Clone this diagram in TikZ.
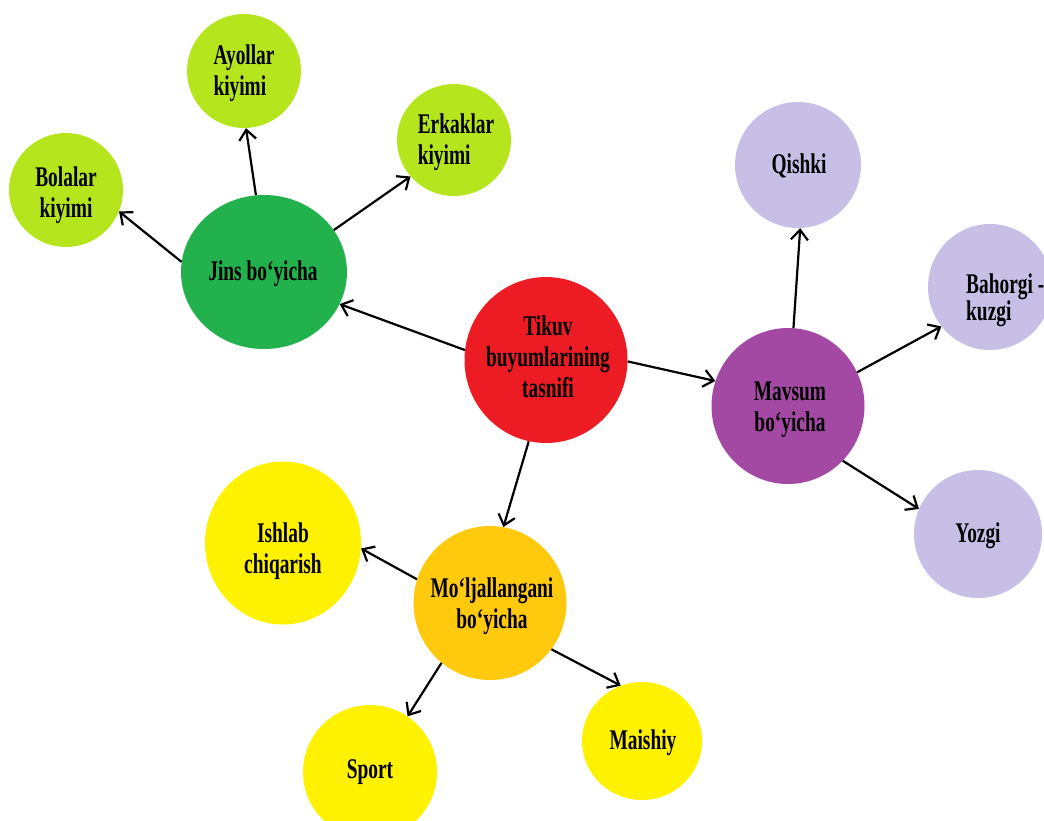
\documentclass[tikz,border=0pt]{standalone}
\usepackage{fontspec}
\setmainfont{Liberation Serif}[FakeStretch=0.68]
\usetikzlibrary{arrows.meta,shapes.geometric}
\definecolor{cred}{HTML}{ED1C24}
\definecolor{cdgreen}{HTML}{22B14C}
\definecolor{clgreen}{HTML}{B5E61D}
\definecolor{cpurple}{HTML}{A349A4}
\definecolor{clav}{HTML}{C8BFE7}
\definecolor{corange}{HTML}{FFC90E}
\definecolor{cyellow}{HTML}{FFF200}
\begin{document}
\begin{tikzpicture}[x=1pt,y=1pt,
  bub/.style={ellipse,inner sep=0pt,draw=none},
  txt/.style={font=\bfseries\fontsize{28.5}{31}\selectfont,align=center,text=black,inner sep=0pt},
  arr/.style={line width=2.2pt,-{Straight Barb[length=10pt,width=17pt]}}]
\useasboundingbox (0,0) rectangle (1044,-820);
% bubbles
\node[bub,fill=cred,minimum width=163pt,minimum height=166pt] (C) at (546,-360) {};
\node[bub,fill=cdgreen,minimum width=166pt,minimum height=154pt] (J) at (264,-272) {};
\node[bub,fill=clgreen,minimum width=114pt,minimum height=114pt] (A) at (244,-71) {};
\node[bub,fill=clgreen,minimum width=114pt,minimum height=112pt] (E) at (454,-140) {};
\node[bub,fill=clgreen,minimum width=114pt,minimum height=114pt] (B) at (66,-190) {};
\node[bub,fill=cpurple,minimum width=153pt,minimum height=156pt] (M) at (788,-406) {};
\node[bub,fill=clav,minimum width=126pt,minimum height=126pt] (Q) at (798,-165) {};
\node[bub,fill=clav,minimum width=124pt,minimum height=126pt] (H) at (990,-287) {};
\node[bub,fill=clav,minimum width=128pt,minimum height=128pt] (Y) at (978,-534) {};
\node[bub,fill=corange,minimum width=153pt,minimum height=154pt] (O) at (490,-603) {};
\node[bub,fill=cyellow,minimum width=156pt,minimum height=163pt] (I) at (283,-543) {};
\node[bub,fill=cyellow,minimum width=134pt,minimum height=134pt] (S) at (370,-772) {};
\node[bub,fill=cyellow,minimum width=120pt,minimum height=118pt] (Mi) at (642,-741) {};
% texts
\node[txt] (Ct) at (548,-357) {Tikuv\\buyumlarining\\tasnifi};
\node[txt] (Jt) at (263,-274) {Jins bo‘yicha};
\node[txt,align=left] (At) at (244,-73) {Ayollar\\kiyimi};
\node[txt,align=left] (Et) at (456,-142) {Erkaklar\\kiyimi};
\node[txt] (Bt) at (66,-195) {Bolalar\\kiyimi};
\node[txt] (Mt) at (790,-410) {Mavsum\\bo‘yicha};
\node[txt] (Qt) at (799,-166) {Qishki};
\node[txt,align=left,anchor=west,font=\bfseries\fontsize{28.5}{27}\selectfont] (Ht) at (966,-300) {Bahorgi -\\kuzgi};
\node[txt] (Yt) at (978,-536) {Yozgi};
\node[txt] (Ot) at (492,-606) {Mo‘ljallangani\\bo‘yicha};
\node[txt] (It) at (283,-551) {Ishlab\\chiqarish};
\node[txt] (St) at (370,-772) {Sport};
\node[txt] (Mit) at (643,-743) {Maishiy};
% arrows
\draw[arr] (C.173) -- (J.-23.5);
\draw[arr] (C.-1.4) -- (M.161);
\draw[arr] (C.-102.5) -- (O.80);
\draw[arr] (J.96) -- (A.-88);
\draw[arr] (J.31) -- (E.220);
\draw[arr] (J.173) -- (B.-22);
\draw[arr] (M.86) -- (Q.-88);
\draw[arr] (M.26.6) -- (H.219);
\draw[arr] (M.-45.5) -- (Y.157.5);
\draw[arr] (O.162) -- (I.-4.6);
\draw[arr] (O.231.5) -- (S.56.6);
\draw[arr] (O.-37) -- (Mi.111);
\end{tikzpicture}
\end{document}
